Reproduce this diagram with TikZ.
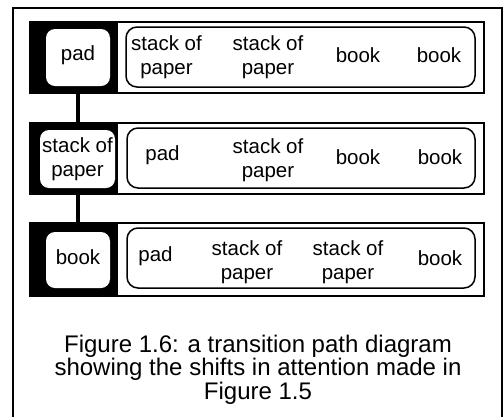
\documentclass[tikz,border=0pt]{standalone}
\usepackage{fontspec}
\setmainfont{Liberation Sans}
\begin{document}
\begin{tikzpicture}[x=1pt,y=-1pt,
  rowbox/.style={draw=black, line width=2pt, fill=white, inner sep=0pt},
  blackbar/.style={fill=black, inner sep=0pt},
  focusbox/.style={fill=white, rounded corners=9pt, inner sep=0pt},
  listbox/.style={draw=black, line width=1.5pt, rounded corners=11pt, inner sep=0pt},
  lbl/.style={align=center, inner sep=0pt, font=\fontsize{20.5}{23.5}\selectfont},
  link/.style={draw=black, line width=4pt},
  capt/.style={align=center, inner sep=0pt, font=\fontsize{24}{23.5}\selectfont}]
\useasboundingbox (0,0) rectangle (504,416);
\draw[line width=1.5pt] (13,440) -- (13,8) -- (502,8) -- (502,440);
% row 1
\node[rowbox, minimum width=454pt, minimum height=71pt] (r1) at (257,57.5) {};
\node[blackbar, minimum width=88pt, minimum height=71pt] (b1) at (74,57.5) {};
\node[focusbox, minimum width=64pt, minimum height=57pt] (f1) at (78,57.5) {};
\node[lbl] (f1t) at (78,55) {pad};
\node[listbox, minimum width=349pt, minimum height=60pt] (l1) at (300.5,57) {};
\node[lbl] (l1a) at (166.5,57) {stack of\\paper};
\node[lbl] (l1b) at (268,57) {stack of\\paper};
\node[lbl] (l1c) at (358,55) {book};
\node[lbl] (l1d) at (439,55) {book};
% row 2
\node[rowbox, minimum width=454pt, minimum height=71pt] (r2) at (257,158.5) {};
\node[blackbar, minimum width=88pt, minimum height=71pt] (b2) at (74,158.5) {};
\node[focusbox, minimum width=75pt, minimum height=58pt] (f2) at (77.5,159) {};
\node[lbl] (f2t) at (77.5,159) {stack of\\paper};
\node[listbox, minimum width=348pt, minimum height=60pt] (l2) at (301,158) {};
\node[lbl] (l2a) at (162.5,155) {pad};
\node[lbl] (l2b) at (268,160) {stack of\\paper};
\node[lbl] (l2c) at (358,157) {book};
\node[lbl] (l2d) at (440,157) {book};
% row 3
\node[rowbox, minimum width=454pt, minimum height=73pt] (r3) at (257,259.5) {};
\node[blackbar, minimum width=88pt, minimum height=73pt] (b3) at (74,259.5) {};
\node[focusbox, minimum width=64pt, minimum height=56pt] (f3) at (78,260) {};
\node[lbl] (f3t) at (78,257) {book};
\node[listbox, minimum width=348pt, minimum height=60pt] (l3) at (301,258) {};
\node[lbl] (l3a) at (155.5,256) {pad};
\node[lbl] (l3b) at (247,262) {stack of\\paper};
\node[lbl] (l3c) at (348,262) {stack of\\paper};
\node[lbl] (l3d) at (440,258) {book};
% links
\path[link] (b1.south -| f1) -- (b2.north -| f1);
\path[link] (b2.south -| f1) -- (b3.north -| f1);
% caption
\node[capt] (cap) at (258,369.5) {Figure 1.6: a transition path diagram\\showing the shifts in attention made in\\Figure 1.5};
\end{tikzpicture}
\end{document}
